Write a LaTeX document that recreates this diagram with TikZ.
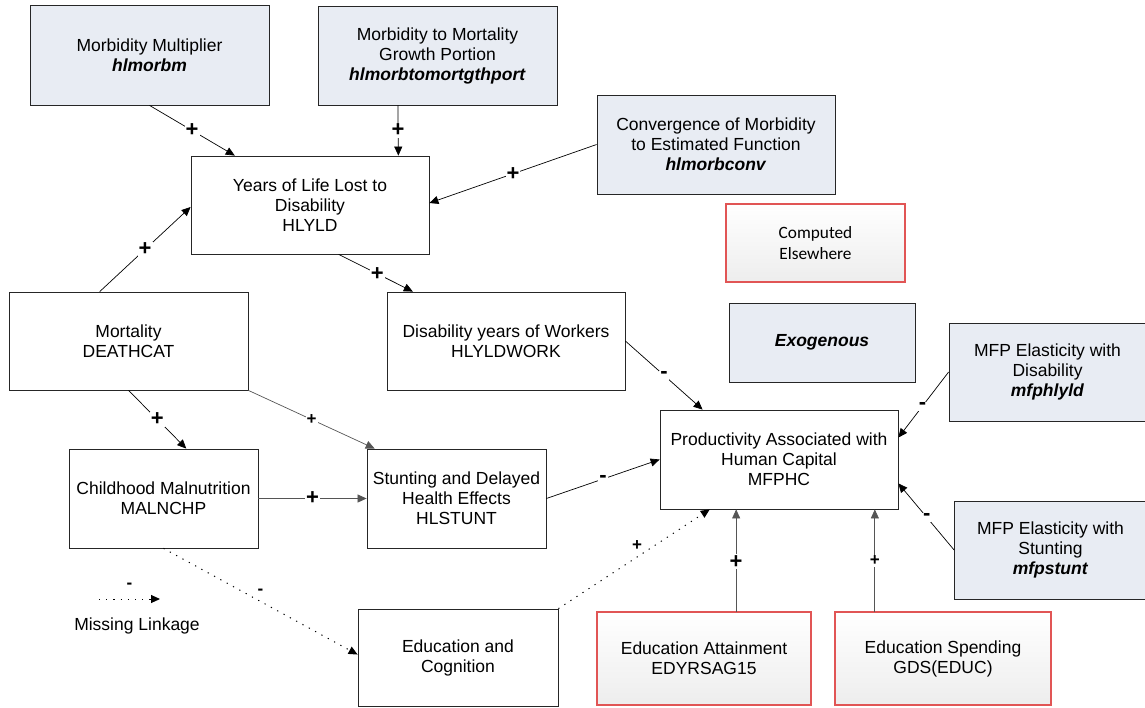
\documentclass[tikz,border=0pt]{standalone}
\usepackage{fontspec}
\setmainfont{Liberation Sans}
\newfontfamily\calfont{Carlito}
\usetikzlibrary{arrows.meta,calc}
\definecolor{exofill}{RGB}{232,236,243}
\definecolor{redb}{RGB}{225,85,85}
\definecolor{lgray}{RGB}{85,85,85}
\begin{document}
\begin{tikzpicture}[x=1pt,y=-1pt,
  box/.style={draw=black!85,line width=0.8pt,align=center,inner sep=2pt,font=\fontsize{17.5}{20}\selectfont},
  exo/.style={box,fill=exofill},
  comp/.style={align=center,inner sep=2pt,font=\fontsize{17.5}{20}\selectfont,top color=white,bottom color=black!7,postaction={draw=redb,line width=1.1pt}},
  arr/.style={line width=0.7pt,-{Triangle[length=9pt,width=8pt]}},
  garr/.style={arr,draw=lgray},
  dotarr/.style={arr,line width=1pt,dash pattern=on 1.2pt off 6pt},
  lbl/.style={fill=white,inner sep=1pt,font=\fontsize{22}{22}\selectfont\bfseries},
  slbl/.style={fill=white,inner sep=1pt,font=\fontsize{17}{17}\selectfont\bfseries},
]
\useasboundingbox (0,0) rectangle (1145,708);

% nodes
\node[exo,minimum width=239pt,minimum height=100pt] (mm) at (149.5,55) {Morbidity Multiplier\\\textbf{\textit{hlmorbm}}};
\node[exo,minimum width=239pt,minimum height=99pt] (mtm) at (437.5,55.5) {Morbidity to Mortality\\Growth Portion\\\textbf{\textit{hlmorbtomortgthport}}};
\node[exo,minimum width=238pt,minimum height=99pt] (conv) at (716,144.5) {Convergence of Morbidity\\to Estimated Function\\\textbf{\textit{hlmorbconv}}};
\node[comp,minimum width=179pt,minimum height=78pt,font=\calfont\fontsize{17.3}{21}\selectfont] (cmp) at (815.5,243) {Computed\\Elsewhere};
\node[box,minimum width=238pt,minimum height=98pt] (yld) at (310,205) {Years of Life Lost to\\Disability\\HLYLD};
\node[box,minimum width=239pt,minimum height=98pt] (mort) at (128.5,341) {Mortality\\DEATHCAT};
\node[box,minimum width=238pt,minimum height=98pt] (dyw) at (506,341) {Disability years of Workers\\HLYLDWORK};
\node[exo,minimum width=186pt,minimum height=79pt] (exo) at (822,342.5) {\textbf{\textit{Exogenous}}};
\node[exo,minimum width=197pt,minimum height=98pt] (mfpd) at (1047.5,372) {MFP Elasticity with\\Disability\\\textbf{\textit{mfphlyld}}};
\node[box,minimum width=238pt,minimum height=99pt] (prod) at (779,459.5) {Productivity Associated with\\Human Capital\\MFPHC};
\node[box,minimum width=189pt,minimum height=99pt] (child) at (163.5,498.5) {Childhood Malnutrition\\MALNCHP};
\node[box,minimum width=179pt,minimum height=99pt] (stunt) at (456.5,498.5) {Stunting and Delayed\\Health Effects\\HLSTUNT};
\node[exo,minimum width=192pt,minimum height=98pt] (mfps) at (1050.5,550) {MFP Elasticity with\\Stunting\\\textbf{\textit{mfpstunt}}};
\node[box,minimum width=200pt,minimum height=97pt] (educ) at (458,657.5) {Education and\\Cognition};
\node[comp,minimum width=214pt,minimum height=93pt] (edatt) at (704,658.5) {Education Attainment\\EDYRSAG15};
\node[comp,minimum width=216pt,minimum height=93pt] (edsp) at (943,658.5) {Education Spending\\GDS(EDUC)};

% connectors
\draw[arr] (mm.south) -- ($(yld.north west)!0.185!(yld.north east)$) node[lbl,pos=0.5]{+};
\draw[arr] ($(mtm.south west)!0.335!(mtm.south east)$) -- ($(yld.north west)!0.87!(yld.north east)$) node[lbl,pos=0.5]{+};
\draw[arr] (conv.west) -- ($(yld.north east)!0.48!(yld.south east)$) node[lbl,pos=0.5]{+};
\draw[arr] ($(mort.north west)!0.38!(mort.north east)$) -- ($(yld.north west)!0.52!(yld.south west)$) node[lbl,pos=0.5]{+};
\draw[arr] ($(yld.south west)!0.62!(yld.south east)$) -- ($(dyw.north west)!0.11!(dyw.north east)$) node[lbl,pos=0.52]{+};
\draw[arr] (dyw.east) -- ($(prod.north west)!0.18!(prod.north east)$) node[lbl,pos=0.5]{-};
\draw[arr] (mort.south) -- ($(child.north west)!0.62!(child.north east)$) node[lbl,pos=0.5]{+};
\draw[garr] (mort.south east) -- ($(stunt.north west)!0.045!(stunt.north east)$) node[slbl,pos=0.5]{+};
\draw[garr] (child.east) -- (stunt.west) node[lbl,pos=0.5]{+};
\draw[dotarr] (child.south) -- ($(educ.north west)!0.47!(educ.south west)$) node[slbl,pos=0.5,yshift=10pt,fill=none]{-};
\draw[arr] (stunt.east) -- (prod.west) node[lbl,pos=0.5]{-};
\draw[dotarr] (educ.north east) -- ($(prod.south west)!0.21!(prod.south east)$) node[slbl,pos=0.52,yshift=12pt,fill=none]{+};
\coordinate (ea) at ($(edatt.north west)!0.65!(edatt.north east)$);
\draw[garr] (ea) -- (ea |- prod.south) node[lbl,pos=0.49]{+};
\coordinate (es) at ($(edsp.north west)!0.185!(edsp.north east)$);
\draw[garr] (es) -- (es |- prod.south) node[slbl,pos=0.5]{+};
\draw[arr] (mfpd.west) -- ($(prod.north east)!0.28!(prod.south east)$) node[lbl,pos=0.52]{-};
\draw[arr] (mfps.west) -- ($(prod.north east)!0.74!(prod.south east)$) node[lbl,pos=0.49]{-};

% legend
\coordinate (lgA) at (99,599);
\coordinate (lgB) at (160,599);
\draw[dotarr] (lgA) -- (lgB) node[slbl,pos=0.5,yshift=13pt,fill=none]{-};
\node[font=\fontsize{17.5}{20}\selectfont] (ml) at (137,626) {Missing Linkage};
\end{tikzpicture}
\end{document}
